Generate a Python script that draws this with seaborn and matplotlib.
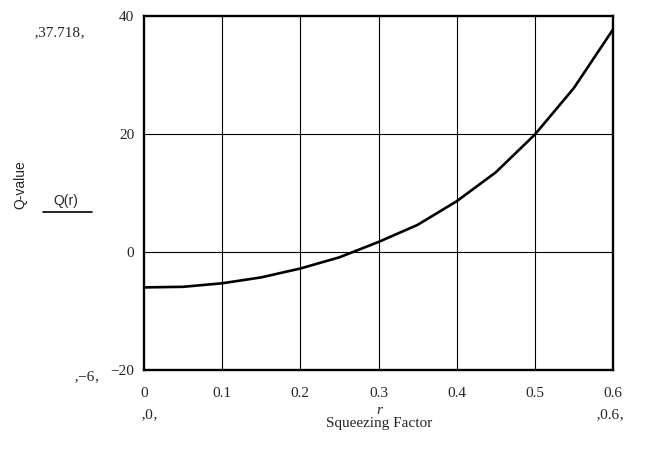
import matplotlib
matplotlib.use("Agg")
import matplotlib.pyplot as plt
import seaborn as sns
import pandas as pd

# Squeezing factor r and the resulting Q-value
r_values = [0.0, 0.05, 0.1, 0.15, 0.2, 0.25, 0.3, 0.35, 0.4, 0.45, 0.5, 0.55, 0.6]
q_values = [-6.0, -5.9, -5.3, -4.3, -2.8, -0.9, 1.7, 4.6, 8.6, 13.5, 19.9, 27.8, 37.718]

x_ticks = [0, 0.1, 0.2, 0.3, 0.4, 0.5, 0.6]
x_tick_labels = ["0", "0.1", "0.2", "0.3", "0.4", "0.5", "0.6"]
y_ticks = [-20, 0, 20, 40]
y_tick_labels = ["\u221220", "0", "20", "40"]
h_grid = [0, 20]

sns.set_style("white")
plt.rcParams["font.family"] = ["Liberation Serif", "DejaVu Serif"]

df = pd.DataFrame({"r": r_values, "Q": q_values})

fig = plt.figure(figsize=(6.48, 4.54), dpi=100)
W, H = 648, 454
ax = fig.add_axes([144 / W, 1 - 370 / H, (613 - 144) / W, (370 - 16) / H])

sns.lineplot(data=df, x="r", y="Q", ax=ax, color="black", linewidth=1.9)

ax.set_xlim(0, 0.6)
ax.set_ylim(-20, 40)

for xv in x_ticks[1:-1]:
    ax.axvline(xv, color="black", linewidth=0.8, zorder=0)
for yv in h_grid:
    ax.axhline(yv, color="black", linewidth=0.8, zorder=0)

ax.set_xticks(x_ticks)
ax.set_xticklabels(x_tick_labels, fontsize=11)
ax.set_yticks(y_ticks)
ax.set_yticklabels(y_tick_labels, fontsize=11)
ax.tick_params(axis="x", length=0, pad=12)
ax.tick_params(axis="y", length=0, pad=7)
ax.set_xlabel("")
ax.set_ylabel("")

for s in ax.spines.values():
    s.set_visible(True)
    s.set_color("black")
    s.set_linewidth(1.7)

def fx(px):
    return px / W

def fy(py):
    return 1 - py / H

# Range markers and axis titles
fig.text(fx(60), fy(33), "\u201a37.718\u201a", ha="center", va="center", fontsize=11)
fig.text(fx(87), fy(377), "\u201a\u22126\u201a", ha="center", va="center", fontsize=11)
fig.text(fx(150), fy(415), "\u201a0\u201a", ha="center", va="center", fontsize=11)
fig.text(fx(610), fy(415), "\u201a0.6\u201a", ha="center", va="center", fontsize=11)
fig.text(fx(379), fy(410), "r", ha="center", va="center", fontsize=11, style="italic")
fig.text(fx(379), fy(424), "Squeezing Factor", ha="center", va="center", fontsize=11)

fig.text(fx(20), fy(185), "Q-value", ha="center", va="center", rotation=90,
         fontsize=10, family=["Liberation Sans", "DejaVu Sans"])
fig.text(fx(66), fy(201), "Q(r)", ha="center", va="center", fontsize=10,
         family=["Liberation Sans", "DejaVu Sans"])
fig.add_artist(plt.Line2D([fx(43), fx(92)], [fy(212), fy(212)], color="black",
                          linewidth=1.2, transform=fig.transFigure))

fig.savefig("out.png", dpi=100, facecolor="white")
